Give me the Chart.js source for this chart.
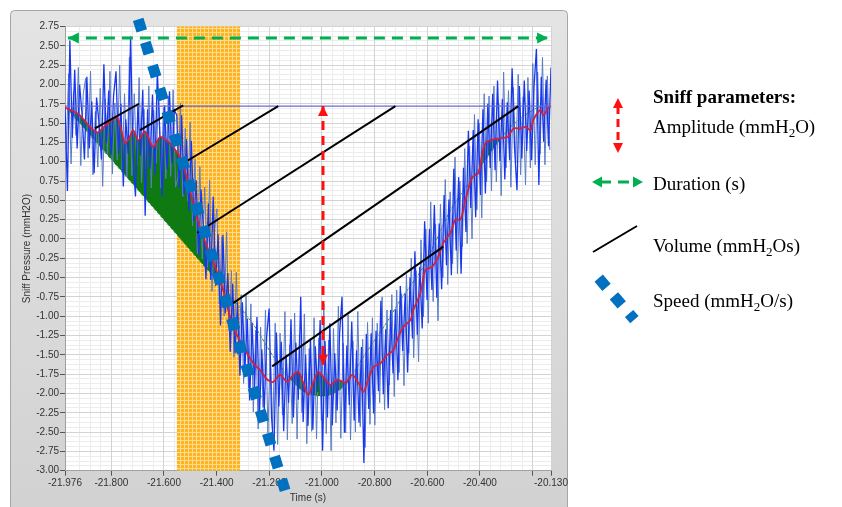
<!DOCTYPE html>
<html>
<head>
<meta charset="utf-8">
<script src="https://cdn.jsdelivr.net/npm/chart.js@4.4.1/dist/chart.umd.min.js"></script>
<style>
  html, body { margin: 0; padding: 0; background: #fff; }
  canvas { display: block; }
</style>
</head>
<body>
<canvas id="sniff" width="842" height="507"></canvas>
<script>
Chart.defaults.font.family = "'Liberation Sans', Arial, sans-serif";
Chart.defaults.font.size = 10;
Chart.defaults.color = '#333';

// axis range and ticks
const xMin = -21.976, xMax = -20.130;
const yMin = -3.00, yMax = 2.75;
const xTickVals = [-21.976, -21.8, -21.6, -21.4, -21.2, -21.0, -20.8, -20.6, -20.4, -20.2, -20.130];
const xTickLabels = ['-21.976', '-21.800', '-21.600', '-21.400', '-21.200', '-21.000', '-20.800', '-20.600', '-20.400', '', '-20.130'];

// raw sniff pressure, evenly sampled from xMin to xMax
const rawV = [
  1.72, 0.62, 2.57, 1.31, 2.19, 1.17, 2.00, 1.62, 1.03, 2.10,
  1.17, 1.78, 0.85, 1.83, 1.50, 1.03, 2.26, 1.24, 1.92, 1.09,
  1.86, 2.17, 1.10, 1.75, 0.68, 1.55, 1.10, 2.62, 1.03, 0.55,
  1.74, 1.08, 1.93, 0.30, 1.68, 0.91, 1.87, 0.83, 2.17, 1.41,
  0.55, 1.73, 0.90, 1.91, 0.98, 1.67,
  1.60, 0.66, 1.60, 0.58, 1.29, 0.36, 1.27, 0.23, 0.76, -0.21,
  0.64, 0.12, -0.52, 0.46, -0.53, 0.55, -0.61, 0.06, -1.12, 0.05,
  -0.96, -0.44, -1.46, -0.58, -1.48, -0.82, -1.77, -0.82, -1.73, -1.03,
  -2.09, -1.09, -1.93, -1.01, -2.29, -1.43, -2.22, -1.26, -0.90, -2.31,
  -2.74, -1.21, -2.17, -1.33, -2.49, -1.50, -2.12, -1.04, -2.31, -1.34,
  -2.08, -0.75, -2.37, -1.50, -2.42, -1.29, -2.47, -1.39, -1.98, -1.05,
  -2.74, -1.32, -2.31, -1.09, -2.41, -1.48, -2.22, -1.23, -0.75, -2.51,
  -1.38, -2.15, -1.07, -2.35, -1.44, -2.38, -1.40, -2.90, -1.23, -2.20,
  -1.22, -2.26, -1.19, -1.97, -0.80, -2.01, -1.17, -2.19, -0.92, -1.74,
  -0.91, -1.83, -0.61, -1.45, -0.71, -1.73, -0.50, -1.29, -0.16, -1.24,
  -0.36, -1.16, 0.23, -0.79, 0.13, -0.66, 0.44, -0.76, 0.20, -0.65,
  0.57, -0.34, 0.51, -0.47, 0.91, -0.15, 0.80, -0.45, 0.92, 0.09,
  1.40, 0.40, 1.41, 0.28, 1.55, 0.57, 1.68, 0.59, 1.75, 0.92,
  1.88, 0.89, 2.05, 1.01, 1.81, 0.77, 1.77, 1.02, 2.21, 1.18,
  0.63, 1.98, 1.04, 2.05, 1.14, 1.92, 1.02, 1.96, 2.46, 0.70,
  2.10, 1.26, 2.06, 1.20, 2.22
];

// second (lighter) raw trace, sampled half a step later
const rawV2 = [
  1.15, 2.14, 0.97, 1.91, 1.34, 2.22, 0.95, 1.87, 2.08, 1.05,
  2.17, 0.83, 1.65, 0.93, 1.95, 0.68, 1.81, 1.09, 2.17, 0.84,
  1.76, 1.02, 2.25, 0.90, 1.88, 0.80, 2.35, 0.82, 1.88, 0.95,
  2.09, 0.73, 1.68, 0.90, 1.98, 0.66, 1.67, 0.98, 1.87, 0.66,
  1.70, 0.78, 1.85, 0.81, 1.93, 0.67,
  0.80, 1.76, 0.55, 1.43, 0.49, 1.51, 0.17, 1.03, -0.19, 0.94,
  -0.26, 0.67, -0.37, 0.76, -0.68, 0.10, 0.39, -0.84, 0.03, -1.00,
  0.09, -1.19, -0.41, -1.53, -0.43, -1.47, -0.72, -1.87, -0.73, -1.93,
  -0.84, -2.24, -1.18, -2.46, -1.14, -2.18, -0.92, -2.51, -1.45, -2.46,
  -1.09, -2.66, -1.22, -2.28, -0.94, -2.60, -1.37, -2.39, -0.96, -2.59,
  -1.23, -2.25, -0.97, -2.65, -1.42, -2.49, -1.02, -2.59, -1.28, -2.35,
  -0.84, -2.52, -1.31, -2.74, -1.16, -2.38, -0.87, -2.58, -1.35, -2.51,
  -0.98, -2.60, -1.32, -2.50, -0.94, -2.43, -1.30, -2.70, -1.08, -2.40,
  -1.02, -2.41, -1.09, -2.12, -0.75, -2.21, -0.92, -1.89, -0.72, -2.04,
  -0.66, -1.73, -0.71, -1.90, -0.46, -1.48, -0.25, -1.54, -0.41, -1.59,
  -0.01, -1.01, 0.13, -1.09, 0.48, -0.81, 0.19, -1.06, 0.45, -0.50,
  0.77, -0.59, 0.61, -0.32, 1.06, -0.45, 0.75, -0.10, 1.17, -0.06,
  1.20, 0.00, 1.61, 0.38, 1.50, 0.27, 1.88, 0.74, 1.85, 0.62,
  1.98, 0.74, 1.75, 0.56, 2.16, 0.92, 1.92, 0.67, 1.96, 0.98,
  2.13, 0.83, 1.84, 0.70, 2.09, 0.92, 2.27, 0.96, 2.16, 1.10,
  2.35, 0.96, 2.11, 1.15
];

// smoothed signal (red)
const redT = [-21.976, -21.949, -21.919, -21.889, -21.854, -21.828, -21.805, -21.778, -21.763, -21.748,
  -21.733, -21.717, -21.698, -21.672, -21.641, -21.615, -21.588, -21.565, -21.539, -21.512,
  -21.482, -21.451, -21.413, -21.379, -21.337, -21.284, -21.261, -21.235, -21.208, -21.185,
  -21.159, -21.132, -21.109, -21.090, -21.071, -21.052, -21.033, -21.014, -20.987, -20.968,
  -20.942, -20.911, -20.885, -20.862, -20.843, -20.824, -20.805, -20.778, -20.752, -20.729,
  -20.710, -20.691, -20.664, -20.653, -20.626, -20.607, -20.581, -20.558, -20.539, -20.512,
  -20.493, -20.474, -20.455, -20.429, -20.406, -20.379, -20.333, -20.295, -20.272, -20.246,
  -20.227, -20.208, -20.197, -20.170, -20.159, -20.140, -20.130];
const redV = [1.70, 1.66, 1.60, 1.48, 1.38, 1.45, 1.52, 1.57, 1.42, 1.24,
  1.30, 1.41, 1.28, 1.39, 1.19, 1.32, 1.27, 1.19, 1.05, 0.78,
  0.36, 0.03, -0.30, -0.62, -1.14, -1.48, -1.61, -1.70, -1.82, -1.85,
  -1.76, -1.85, -1.76, -1.72, -1.86, -2.02, -1.86, -1.72, -1.82, -1.89,
  -1.82, -1.86, -1.76, -1.86, -1.98, -1.82, -1.66, -1.61, -1.50, -1.44,
  -1.27, -1.14, -1.05, -0.92, -0.70, -0.40, -0.36, -0.23, -0.05, 0.08,
  0.25, 0.25, 0.50, 0.80, 0.85, 1.24, 1.30, 1.32, 1.43, 1.43,
  1.45, 1.41, 1.54, 1.67, 1.60, 1.70, 1.72];

// fitted curve (green dashed, green area between it and the smoothed signal)
const fitT = [-21.976, -21.729, -21.512, -21.273, -21.177, -21.082, -21.025, -20.968, -20.911, -20.843,
  -20.752, -20.702, -20.615, -20.524, -20.486, -20.379, -20.284, -20.181, -20.130];
const fitV = [1.71, 0.75, -0.10, -1.05, -1.56, -1.95, -2.03, -2.02, -1.89, -1.53,
  -1.07, -0.79, -0.36, 0.29, 0.51, 1.02, 1.45, 1.70, 1.71];

const baseLevel = 1.72;

// volume lines
const volT0 = [-21.862, -21.691, -21.527, -21.474, -21.337, -21.189];
const volV0 = [1.43, 1.41, 0.98, 0.08, -0.83, -1.65];
const volT1 = [-21.695, -21.527, -21.166, -20.721, -20.254, -20.539];
const volV1 = [1.75, 1.73, 1.72, 1.72, 1.72, -0.10];

// amplitude, duration, speed markers
const ampT = [-20.996, -20.996];
const ampV = [1.72, -1.63];
const durT = [-21.965, -20.141];
const durV = [2.60, 2.60];
const speedT = [-21.698, -21.140];
const speedV = [2.843, -3.255];

// shaded time window
const bandT = [-21.551, -21.311];

const pts = (xs, ys) => xs.map((x, i) => ({ x: x, y: ys[i] }));
const rawStep = (xMax - xMin) / (rawV.length - 1);
const rawPts = rawV.map((v, i) => ({ x: xMin + i * rawStep, y: v }));
const rawPts2 = rawV2.map((v, i) => ({ x: xMin + (i + 0.5) * rawStep, y: v }));

function arrowHead(ctx, tx, ty, fx, fy, len, half, color) {
  const ang = Math.atan2(ty - fy, tx - fx);
  ctx.save();
  ctx.translate(tx, ty);
  ctx.rotate(ang);
  ctx.fillStyle = color;
  ctx.beginPath();
  ctx.moveTo(0, 0);
  ctx.lineTo(-len, -half);
  ctx.lineTo(-len, half);
  ctx.closePath();
  ctx.fill();
  ctx.restore();
}

function makeBandPattern(ctx) {
  const c = document.createElement('canvas');
  c.width = 4; c.height = 4;
  const g = c.getContext('2d');
  g.fillStyle = '#ffb31c';
  g.fillRect(0, 0, 4, 4);
  g.fillStyle = '#ffdc96';
  g.fillRect(0, 0, 4, 1);
  g.fillRect(0, 0, 1, 4);
  return ctx.createPattern(c, 'repeat');
}

const panelPlugin = {
  id: 'panel',
  beforeDraw(chart) {
    const { ctx, chartArea: a } = chart;
    ctx.save();
    ctx.fillStyle = '#fff';
    ctx.fillRect(0, 0, chart.width, chart.height);
    const grad = ctx.createLinearGradient(0, 10, 0, 507);
    grad.addColorStop(0, '#e4e4e4');
    grad.addColorStop(1, '#d2d2d2');
    ctx.fillStyle = grad;
    ctx.strokeStyle = '#a6a6a6';
    ctx.lineWidth = 1;
    ctx.beginPath();
    ctx.roundRect(10.5, 10.5, 557, 502, 4);
    ctx.fill();
    ctx.stroke();
    ctx.fillStyle = '#fff';
    ctx.fillRect(a.left, a.top, a.width, a.height);
    ctx.restore();
  }
};

const bandPlugin = {
  id: 'band',
  beforeDatasetsDraw(chart) {
    const { ctx, chartArea: a, scales } = chart;
    const x0 = scales.x.getPixelForValue(bandT[0]);
    const x1 = scales.x.getPixelForValue(bandT[1]);
    ctx.save();
    ctx.fillStyle = makeBandPattern(ctx);
    ctx.fillRect(x0, a.top, x1 - x0, a.height);
    ctx.restore();
  }
};

const arrowPlugin = {
  id: 'arrows',
  afterDatasetsDraw(chart) {
    const ctx = chart.ctx;
    chart.data.datasets.forEach((ds, i) => {
      if (!ds.arrowHead) return;
      const p = chart.getDatasetMeta(i).data;
      const p0 = p[0], p1 = p[p.length - 1];
      arrowHead(ctx, p0.x, p0.y, p1.x, p1.y, ds.arrowHead, ds.arrowHead * 0.5, ds.borderColor);
      arrowHead(ctx, p1.x, p1.y, p0.x, p0.y, ds.arrowHead, ds.arrowHead * 0.5, ds.borderColor);
    });
  }
};

const legendPlugin = {
  id: 'sniffLegend',
  afterDraw(chart) {
    const ctx = chart.ctx;
    const tx = 653;
    const serif = "'Liberation Serif', 'Times New Roman', serif";
    function rich(parts, y, bold) {
      let x = tx;
      parts.forEach(p => {
        const sub = p[1] === 'sub';
        ctx.font = (bold ? 'bold ' : '') + (sub ? '13px ' : '19px ') + serif;
        ctx.fillText(p[0], x, sub ? y + 4 : y);
        x += ctx.measureText(p[0]).width;
      });
    }
    ctx.save();
    ctx.fillStyle = '#000';
    ctx.textBaseline = 'alphabetic';
    rich([['Sniff parameters:']], 103, true);
    rich([['Amplitude (mmH'], ['2', 'sub'], ['O)']], 132.5);
    rich([['Duration (s)']], 190);
    rich([['Volume (mmH'], ['2', 'sub'], ['Os)']], 251.5);
    rich([['Speed (mmH'], ['2', 'sub'], ['O/s)']], 306.5);

    // amplitude icon
    ctx.strokeStyle = '#ff1010';
    ctx.lineWidth = 3;
    ctx.setLineDash([8, 5]);
    ctx.beginPath(); ctx.moveTo(618, 106); ctx.lineTo(618, 146); ctx.stroke();
    arrowHead(ctx, 618, 98, 618, 120, 10, 5, '#ff1010');
    arrowHead(ctx, 618, 153, 618, 130, 10, 5, '#ff1010');
    // duration icon
    ctx.strokeStyle = '#00b050';
    ctx.setLineDash([11, 7]);
    ctx.beginPath(); ctx.moveTo(600, 182); ctx.lineTo(634, 182); ctx.stroke();
    arrowHead(ctx, 592, 182, 610, 182, 10, 5.5, '#00b050');
    arrowHead(ctx, 643, 182, 625, 182, 10, 5.5, '#00b050');
    // volume icon
    ctx.setLineDash([]);
    ctx.strokeStyle = '#000';
    ctx.lineWidth = 2;
    ctx.beginPath(); ctx.moveTo(593, 252); ctx.lineTo(637, 226); ctx.stroke();
    // speed icon
    ctx.strokeStyle = '#0070c0';
    ctx.lineWidth = 11;
    ctx.lineCap = 'butt';
    ctx.setLineDash([12, 11.3]);
    ctx.beginPath(); ctx.moveTo(598.7, 278.2); ctx.lineTo(634.4, 319.7); ctx.stroke();
    ctx.restore();
  }
};

const volumeSets = volT0.map((t, i) => ({
  label: 'Volume ' + (i + 1),
  data: pts([t, volT1[i]], [volV0[i], volV1[i]]),
  borderColor: '#000',
  borderWidth: 2,
  order: 5
}));

new Chart(document.getElementById('sniff'), {
  type: 'line',
  data: {
    datasets: [
      {
        label: 'Fit',
        data: pts(fitT, fitV),
        borderColor: '#3d9b3d',
        borderWidth: 1,
        borderDash: [3, 2],
        tension: 0.3,
        order: 10
      },
      {
        label: 'Area',
        data: pts(redT, redV),
        borderColor: 'rgba(0,0,0,0)',
        borderWidth: 0,
        tension: 0.3,
        fill: { target: 0, above: '#0f7a12', below: 'rgba(0,0,0,0)' },
        order: 9
      },
      {
        label: 'Raw 2',
        data: rawPts2,
        borderColor: '#5a7cc6',
        borderWidth: 1,
        order: 8.5
      },
      {
        label: 'Raw',
        data: rawPts,
        borderColor: '#1736ee',
        borderWidth: 1.3,
        order: 8
      },
      {
        label: 'Smoothed',
        data: pts(redT, redV),
        borderColor: '#d0223f',
        borderWidth: 1.8,
        tension: 0.3,
        order: 7
      },
      {
        label: 'Baseline',
        data: pts([xMin, xMax], [baseLevel, baseLevel]),
        borderColor: '#6a6ad6',
        borderWidth: 1.2,
        order: 6
      },
      ...volumeSets,
      {
        label: 'Amplitude',
        data: pts(ampT, ampV),
        borderColor: '#ff1010',
        borderWidth: 3,
        borderDash: [9, 6],
        arrowHead: 10,
        order: 4
      },
      {
        label: 'Duration',
        data: pts(durT, durV),
        borderColor: '#00b050',
        borderWidth: 3,
        borderDash: [11, 7],
        arrowHead: 11,
        order: 3
      },
      {
        label: 'Speed',
        data: pts(speedT, speedV),
        borderColor: '#0070c0',
        borderWidth: 11,
        borderDash: [12, 12.1],
        borderCapStyle: 'butt',
        clip: false,
        order: 1
      }
    ]
  },
  options: {
    responsive: false,
    animation: false,
    devicePixelRatio: 1,
    layout: { padding: { left: 10, right: 291, top: 26.5, bottom: 0 } },
    elements: { point: { radius: 0 }, line: { fill: false } },
    plugins: {
      legend: { display: false },
      tooltip: { enabled: false }
    },
    scales: {
      xMinor: {
        type: 'linear', position: 'bottom', min: xMin, max: xMax, z: -1,
        afterFit: s => { s.height = 0; },
        ticks: { display: false, stepSize: 0.04, maxTicksLimit: 100 },
        grid: { color: '#ececec', drawTicks: false },
        border: { display: false }
      },
      yMinor: {
        type: 'linear', position: 'left', min: yMin, max: yMax, z: -1,
        afterFit: s => { s.width = 0; },
        ticks: { display: false, stepSize: 0.0625, maxTicksLimit: 200 },
        grid: { color: '#ececec', drawTicks: false },
        border: { display: false }
      },
      x: {
        type: 'linear', position: 'bottom', min: xMin, max: xMax,
        afterBuildTicks: s => { s.ticks = xTickVals.map(v => ({ value: v })); },
        afterFit: s => { s.height = 36.3; },
        ticks: {
          autoSkip: false, maxRotation: 0, padding: 2, color: '#333',
          callback: (v, i) => xTickLabels[i]
        },
        grid: { color: '#d3d3d3', tickColor: '#555', tickLength: 5 },
        border: { color: '#a0a0a0' },
        title: { display: true, text: 'Time (s)', font: { size: 10 }, color: '#333', padding: { top: 0, bottom: 3 } }
      },
      y: {
        type: 'linear', position: 'left', min: yMin, max: yMax,
        afterFit: s => { s.width = 55; },
        ticks: { stepSize: 0.25, maxTicksLimit: 40, padding: 1, color: '#333', callback: v => v.toFixed(2) },
        grid: { color: '#d3d3d3', tickColor: '#555', tickLength: 5 },
        border: { color: '#a0a0a0' },
        title: { display: true, text: 'Sniff Pressure (mmH2O)', font: { size: 10 }, color: '#333', padding: { top: 11, bottom: 0 } }
      }
    }
  },
  plugins: [panelPlugin, bandPlugin, arrowPlugin, legendPlugin]
});
</script>
</body>
</html>
